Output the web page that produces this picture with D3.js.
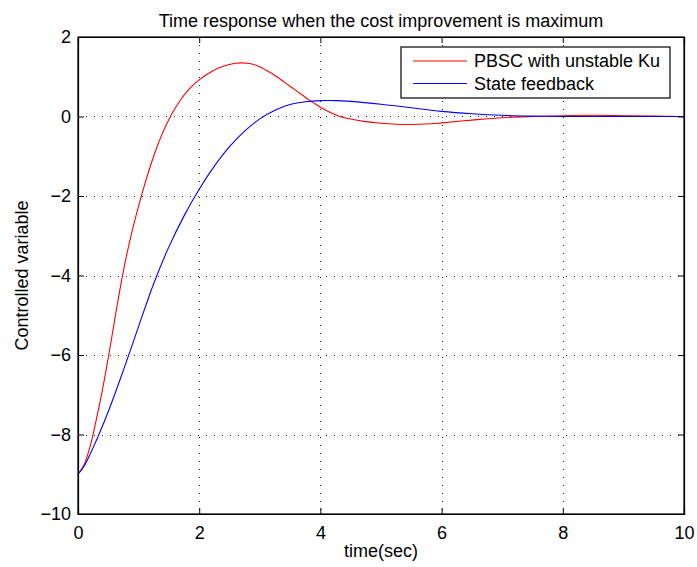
<!DOCTYPE html>
<html>
<head>
<meta charset="utf-8">
<script src="https://cdn.jsdelivr.net/npm/d3@7"></script>
<style>
  html, body { margin: 0; padding: 0; background: #fff; }
  svg { display: block; }
  text { font-family: "Liberation Sans", Arial, Helvetica, sans-serif; fill: #000; }
</style>
</head>
<body>
<svg id="chart" width="697" height="567"></svg>
<script>
// PBSC with unstable Ku: sample times (s) and response
const pbscTime = [0, 0.1, 0.2, 0.3, 0.4, 0.5, 0.6, 0.7, 0.8, 0.9, 1.0, 1.1, 1.2, 1.3, 1.4,
  1.5, 1.6, 1.7, 1.8, 1.9, 2.0, 2.1, 2.2, 2.3, 2.4, 2.5, 2.6, 2.7, 2.8, 2.9, 3.0, 3.1,
  3.2, 3.3, 3.4, 3.5, 3.6, 3.7, 3.8, 3.9, 4.0, 4.1, 4.2, 4.3, 4.4, 4.5, 4.75, 5.0, 5.25,
  5.5, 5.75, 6.0, 6.5, 7.0, 7.5, 8.0, 8.5, 9.0, 9.5, 10];
const pbsc = [-9, -8.76, -8.3, -7.64, -6.9, -6.065, -5.165, -4.285, -3.505, -2.84,
  -2.255, -1.715, -1.22, -0.78, -0.4, -0.075, 0.2, 0.435, 0.63, 0.79, 0.92, 1.03, 1.125,
  1.205, 1.265, 1.31, 1.34, 1.35, 1.34, 1.31, 1.25, 1.17, 1.08, 0.98, 0.87, 0.76, 0.65,
  0.54, 0.43, 0.33, 0.235, 0.15, 0.075, 0.015, -0.03, -0.065, -0.13, -0.17, -0.195,
  -0.2, -0.19, -0.16, -0.09, -0.03, 0.0, 0.02, 0.03, 0.02, 0.01, 0];

// State feedback: sample times (s) and response
const stateTime = [0, 0.1, 0.25, 0.5, 0.75, 1, 1.25, 1.5, 1.75, 2, 2.25, 2.5, 2.75, 3,
  3.25, 3.5, 3.75, 4, 4.25, 4.5, 5, 5.5, 6, 6.5, 7, 7.5, 8, 8.5, 9, 9.5, 10];
const stateFb = [-9, -8.8, -8.33, -7.42, -6.38, -5.28, -4.2, -3.28, -2.5, -1.83, -1.25,
  -0.76, -0.37, -0.06, 0.16, 0.3, 0.37, 0.4, 0.4, 0.38, 0.31, 0.22, 0.13, 0.07, 0.03,
  0.01, 0, 0, 0, 0, 0];

const xTicks = [0, 2, 4, 6, 8, 10];
const yTicks = [-10, -8, -6, -4, -2, 0, 2];

const seriesNames = ["PBSC with unstable Ku", "State feedback"];
const seriesColors = ["#ff0000", "#0000ff"];

const plot = { left: 78, right: 684, top: 37, bottom: 514 };

const svg = d3.select("#chart");
const x = d3.scaleLinear().domain([0, 10]).range([plot.left, plot.right]);
const y = d3.scaleLinear().domain([-10, 2]).range([plot.bottom, plot.top]);

// Dotted grid
const grid = svg.append("g").attr("stroke", "#222").attr("stroke-width", 1)
  .attr("stroke-dasharray", "1,7").attr("shape-rendering", "crispEdges");
grid.selectAll(".gx").data(xTicks.slice(1, -1)).join("line")
  .attr("x1", d => Math.round(x(d)) + 0.5).attr("x2", d => Math.round(x(d)) + 0.5)
  .attr("y1", plot.top).attr("y2", plot.bottom);
grid.selectAll(".gy").data(yTicks.slice(1, -1)).join("line")
  .attr("y1", d => Math.round(y(d)) + 0.5).attr("y2", d => Math.round(y(d)) + 0.5)
  .attr("x1", plot.left).attr("x2", plot.right);

// Curves
const series = [
  { t: pbscTime, v: pbsc, color: seriesColors[0] },
  { t: stateTime, v: stateFb, color: seriesColors[1] }
];
const line = d3.line()
  .x(d => x(d[0]))
  .y(d => y(d[1]))
  .curve(d3.curveCatmullRom.alpha(0.5));

svg.append("clipPath").attr("id", "plotclip").append("rect")
  .attr("x", plot.left).attr("y", plot.top)
  .attr("width", plot.right - plot.left).attr("height", plot.bottom - plot.top);

svg.append("g").attr("clip-path", "url(#plotclip)")
  .selectAll("path").data(series).join("path")
  .attr("d", s => line(s.t.map((t, i) => [t, s.v[i]])))
  .attr("fill", "none")
  .attr("stroke", s => s.color)
  .attr("stroke-width", 1.1);

// Axes (ticks inside, on all four sides)
const tickLen = 6;
const axB = d3.axisBottom(x).tickValues(xTicks).tickSize(-tickLen).tickPadding(12);
const axT = d3.axisTop(x).tickValues(xTicks).tickSize(-tickLen).tickFormat("");
const axL = d3.axisLeft(y).tickValues(yTicks).tickSize(-tickLen).tickPadding(12)
  .tickFormat(d => d < 0 ? "\u2212" + Math.abs(d) : d);
const axR = d3.axisRight(y).tickValues(yTicks).tickSize(-tickLen).tickFormat("");

function styleAxis(g) {
  g.select(".domain").attr("stroke", "#000").attr("stroke-width", 1.2);
  g.selectAll(".tick line").attr("stroke", "#000");
  g.selectAll("text").attr("font-size", 18).attr("font-family", "Liberation Sans, Arial, sans-serif");
}
svg.append("g").attr("transform", `translate(0,${plot.bottom})`).call(axB).call(styleAxis)
  .selectAll("text").attr("dy", "0.71em");
svg.append("g").attr("transform", `translate(0,${plot.top})`).call(axT).call(styleAxis);
svg.append("g").attr("transform", `translate(${plot.left},0)`).call(axL).call(styleAxis)
  .selectAll("text").attr("dx", "5");
svg.append("g").attr("transform", `translate(${plot.right},0)`).call(axR).call(styleAxis);

// Outer box
svg.append("rect")
  .attr("x", plot.left).attr("y", plot.top)
  .attr("width", plot.right - plot.left).attr("height", plot.bottom - plot.top)
  .attr("fill", "none").attr("stroke", "#000").attr("stroke-width", 1.2);

// Title and axis labels
svg.append("text").attr("x", (plot.left + plot.right) / 2).attr("y", 27)
  .attr("text-anchor", "middle").attr("font-size", 18)
  .text("Time response when the cost improvement is maximum");
svg.append("text").attr("x", (plot.left + plot.right) / 2).attr("y", 557)
  .attr("text-anchor", "middle").attr("font-size", 18)
  .text("time(sec)");
svg.append("text")
  .attr("transform", `translate(28,${(plot.top + plot.bottom) / 2}) rotate(-90)`)
  .attr("text-anchor", "middle").attr("font-size", 18)
  .text("Controlled variable");

// Legend
const legend = svg.append("g");
legend.append("rect").attr("x", 401).attr("y", 47).attr("width", 269).attr("height", 51)
  .attr("fill", "#fff").attr("stroke", "#000").attr("stroke-width", 1.2);
const rows = legend.selectAll(".row").data(seriesNames).join("g")
  .attr("transform", (d, i) => `translate(0,${61 + i * 22.5})`);
rows.append("line").attr("x1", 413).attr("x2", 467).attr("y1", 0).attr("y2", 0)
  .attr("stroke", (d, i) => seriesColors[i]).attr("stroke-width", 1.1);
rows.append("text").attr("x", 474).attr("y", 0).attr("dy", "0.35em")
  .attr("font-size", 18).text(d => d);
</script>
</body>
</html>
